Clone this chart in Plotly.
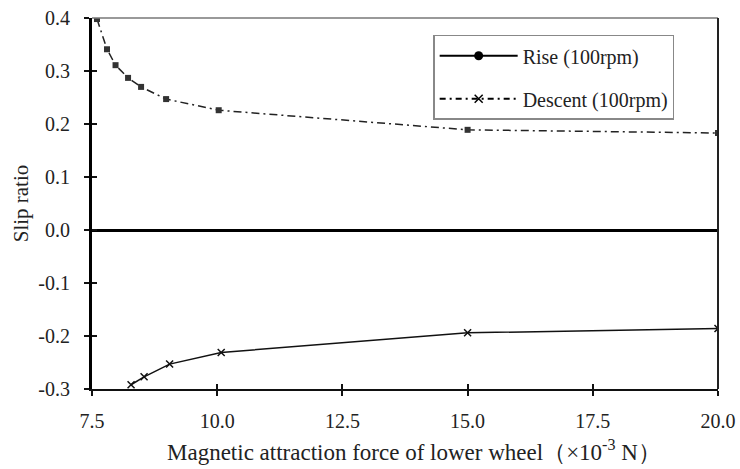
import plotly.graph_objects as go

# Data
upper_x = [7.6, 7.8, 7.97, 8.22, 8.48, 8.98, 10.03, 15.0, 20.0]
upper_y = [0.398, 0.341, 0.311, 0.287, 0.270, 0.247, 0.226, 0.189, 0.183]
lower_x = [8.28, 8.54, 9.05, 10.08, 15.0, 20.0]
lower_y = [-0.292, -0.277, -0.253, -0.231, -0.194, -0.186]

legend_names = ["Rise (100rpm)", "Descent (100rpm)"]
x_ticks = [7.5, 10.0, 12.5, 15.0, 17.5, 20.0]
x_tick_text = ["7.5", "10.0", "12.5", "15.0", "17.5", "20.0"]
y_ticks = [-0.3, -0.2, -0.1, 0.0, 0.1, 0.2, 0.3, 0.4]
y_tick_text = ["-0.3", "-0.2", "-0.1", "0.0", "0.1", "0.2", "0.3", "0.4"]
x_title = "Magnetic attraction force of lower wheel（×10<sup>-3</sup> N）"

FONT = "Liberation Serif"

fig = go.Figure()
fig.add_trace(go.Scatter(
    x=upper_x, y=upper_y, mode="lines+markers", showlegend=False,
    line=dict(color="#222", width=1.5, dash="8px,4px,2px,4px"),
    marker=dict(symbol="square", size=6, color="#333"),
))
fig.add_trace(go.Scatter(
    x=lower_x, y=lower_y, mode="lines+markers", showlegend=False,
    line=dict(color="#111", width=1.5),
    marker=dict(symbol="x-thin", size=7, line=dict(color="#111", width=1.5)),
))
# legend entries
fig.add_trace(go.Scatter(
    x=[None], y=[None], mode="lines+markers", name=legend_names[0], legendgroup="a",
    line=dict(color="black", width=2),
    marker=dict(symbol="circle", size=9, color="black"),
))
fig.add_trace(go.Scatter(
    x=[None], y=[None], mode="lines+markers", name=legend_names[1], legendgroup="b",
    line=dict(color="black", width=2, dash="6px,4px,2px,4px"),
    marker=dict(symbol="x-thin", size=8, line=dict(color="black", width=1.5)),
))
# invisible trace for overlay axes (inside ticks)
fig.add_trace(go.Scatter(x=[None], y=[None], xaxis="x2", yaxis="y2", showlegend=False))

fig.update_layout(
    width=740, height=469,
    margin=dict(l=92, r=22, t=18, b=80),
    paper_bgcolor="white", plot_bgcolor="white",
    font=dict(family=FONT, size=20, color="#222"),
    xaxis=dict(
        range=[7.5, 20.0], tickvals=x_ticks, ticktext=x_tick_text, automargin=False,
        showgrid=False, zeroline=False, showline=True, linecolor="#111", linewidth=2,
        ticks="outside", ticklen=5, tickwidth=2, tickcolor="#111",
        ticklabelstandoff=8, tickfont=dict(size=20),
    ),
    yaxis=dict(
        range=[-0.3, 0.4], tickvals=y_ticks, ticktext=y_tick_text, automargin=False,
        showgrid=False, zeroline=True, zerolinecolor="#000", zerolinewidth=3,
        showline=True, linecolor="#000", linewidth=3,
        ticks="outside", ticklen=5, tickwidth=2, tickcolor="#111",
        ticklabelstandoff=10, tickfont=dict(size=20),
        title=dict(text="Slip ratio", standoff=4, font=dict(size=21)),
    ),
    xaxis2=dict(range=[7.5, 20.0], tickvals=x_ticks, overlaying="x", anchor="y2",
                side="bottom", showticklabels=False, showgrid=False, zeroline=False,
                ticks="inside", ticklen=5, tickwidth=2, tickcolor="#111", automargin=False),
    yaxis2=dict(range=[-0.3, 0.4], tickvals=y_ticks, overlaying="y", anchor="x2",
                side="left", showticklabels=False, showgrid=False, zeroline=False,
                ticks="inside", ticklen=5, tickwidth=2, tickcolor="#111", automargin=False),
    legend=dict(
        x=0.545, y=0.955, xanchor="left", yanchor="top",
        bordercolor="#888", borderwidth=1.5, bgcolor="white",
        font=dict(family=FONT, size=20, color="#222"),
        tracegroupgap=14, itemwidth=78,
    ),
    annotations=[
        dict(text=x_title, xref="paper", yref="paper", x=0.514, y=-0.165,
             xanchor="center", yanchor="middle", showarrow=False,
             font=dict(family=FONT, size=23, color="#222")),
    ],
    shapes=[
        dict(type="line", xref="paper", yref="paper", x0=0, x1=1, y0=1, y1=1,
             line=dict(color="#777", width=1.5)),
        dict(type="line", xref="paper", yref="paper", x0=1, x1=1, y0=0, y1=1,
             line=dict(color="#222", width=2)),
    ],
)

fig.write_html("out.html")
